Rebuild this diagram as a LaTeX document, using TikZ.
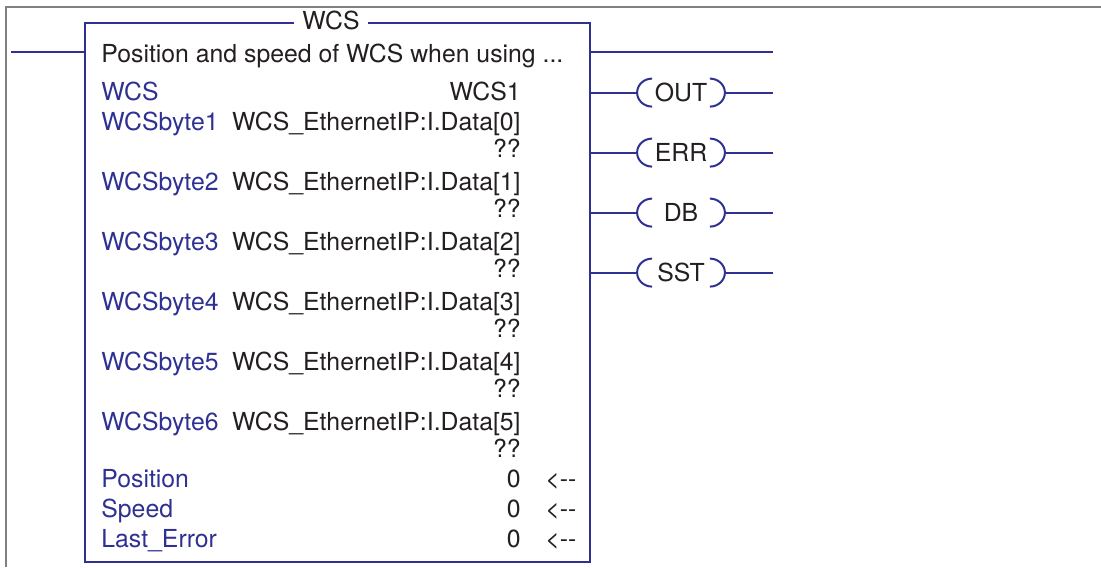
\documentclass[tikz,border=0pt]{standalone}
\usepackage{fontspec}
\setmainfont{TeX Gyre Heros}
\usepackage{tikz}
\usetikzlibrary{positioning,calc}
\definecolor{rungblue}{RGB}{46,49,146}
\definecolor{inkblack}{RGB}{35,31,32}
\definecolor{framegray}{RGB}{128,128,128}

\begin{document}
\begin{tikzpicture}[x=0.5pt,y=-0.5pt,
  every node/.style={font=\fontsize{12.4}{14}\selectfont,inner sep=0pt},
  wire/.style={rungblue,line width=1pt},
  tag/.style={anchor=base west,text=rungblue},
  val/.style={anchor=base east,text=inkblack},
  coil/.style={minimum width=43.5pt,minimum height=14pt,text=inkblack,text height=8.9pt,text depth=0pt}]
\useasboundingbox (0,0) rectangle (1101,567);
\draw[framegray,line width=1pt] (6,567) -- (6,7) -- (1101,7);
% function block
\draw[wire] (85,23) rectangle (590,562);
\node[fill=white,inner xsep=4pt,anchor=base,text=inkblack] (ttl) at (331,30) {WCS};
\node[anchor=base west,text=inkblack] (desc) at (101,62) {Position and speed of WCS when using ...};
% enable rung
\coordinate (inL) at (11,52);
\coordinate (inR) at (85,52);
\coordinate (outL) at (590,52);
\coordinate (outR) at (773,52);
\draw[wire] (inL) -- (inR);
\draw[wire] (outL) -- (outR);
% parameters
\node[tag] (wcs) at (101,100) {WCS};
\node[val] (wcsv) at (521,100) {WCS1};
\foreach \k in {1,...,6}{
  \pgfmathtruncatemacro{\idx}{\k-1}
  \node[tag] (byte\k) at (101,{130+60*(\k-1)}) {WCSbyte\k};
  \node[val] (src\k) at (521,{130+60*(\k-1)}) {WCS\_EthernetIP:I.Data[\idx]};
  \node[val] (cur\k) at (521,{157+60*(\k-1)}) {??};
}
\foreach \name/\y in {Position/487,Speed/517,Last\_Error/547}{
  \node[tag] at (101,\y) {\name};
  \node[val] at (521,\y) {0};
  \node[anchor=base west,text=inkblack] at (545,\y) {<-{}-};
}
% output coils
\foreach \name/\y in {OUT/93,ERR/153,DB/213,SST/273}{
  \coordinate (l\name) at (590,\y);
  \coordinate (r\name) at (773,\y);
  \node[coil] (c\name) at (681,\y) {\name};
  \draw[wire] (l\name) -- (c\name.west);
  \draw[wire] (c\name.east) -- (r\name);
  \draw[wire] ([xshift=7.5pt]c\name.north west) arc[start angle=90,end angle=270,x radius=7.5pt,y radius=7pt];
  \draw[wire] ([xshift=-7.5pt]c\name.north east) arc[start angle=90,end angle=-90,x radius=7.5pt,y radius=7pt];
}
\end{tikzpicture}
\end{document}
